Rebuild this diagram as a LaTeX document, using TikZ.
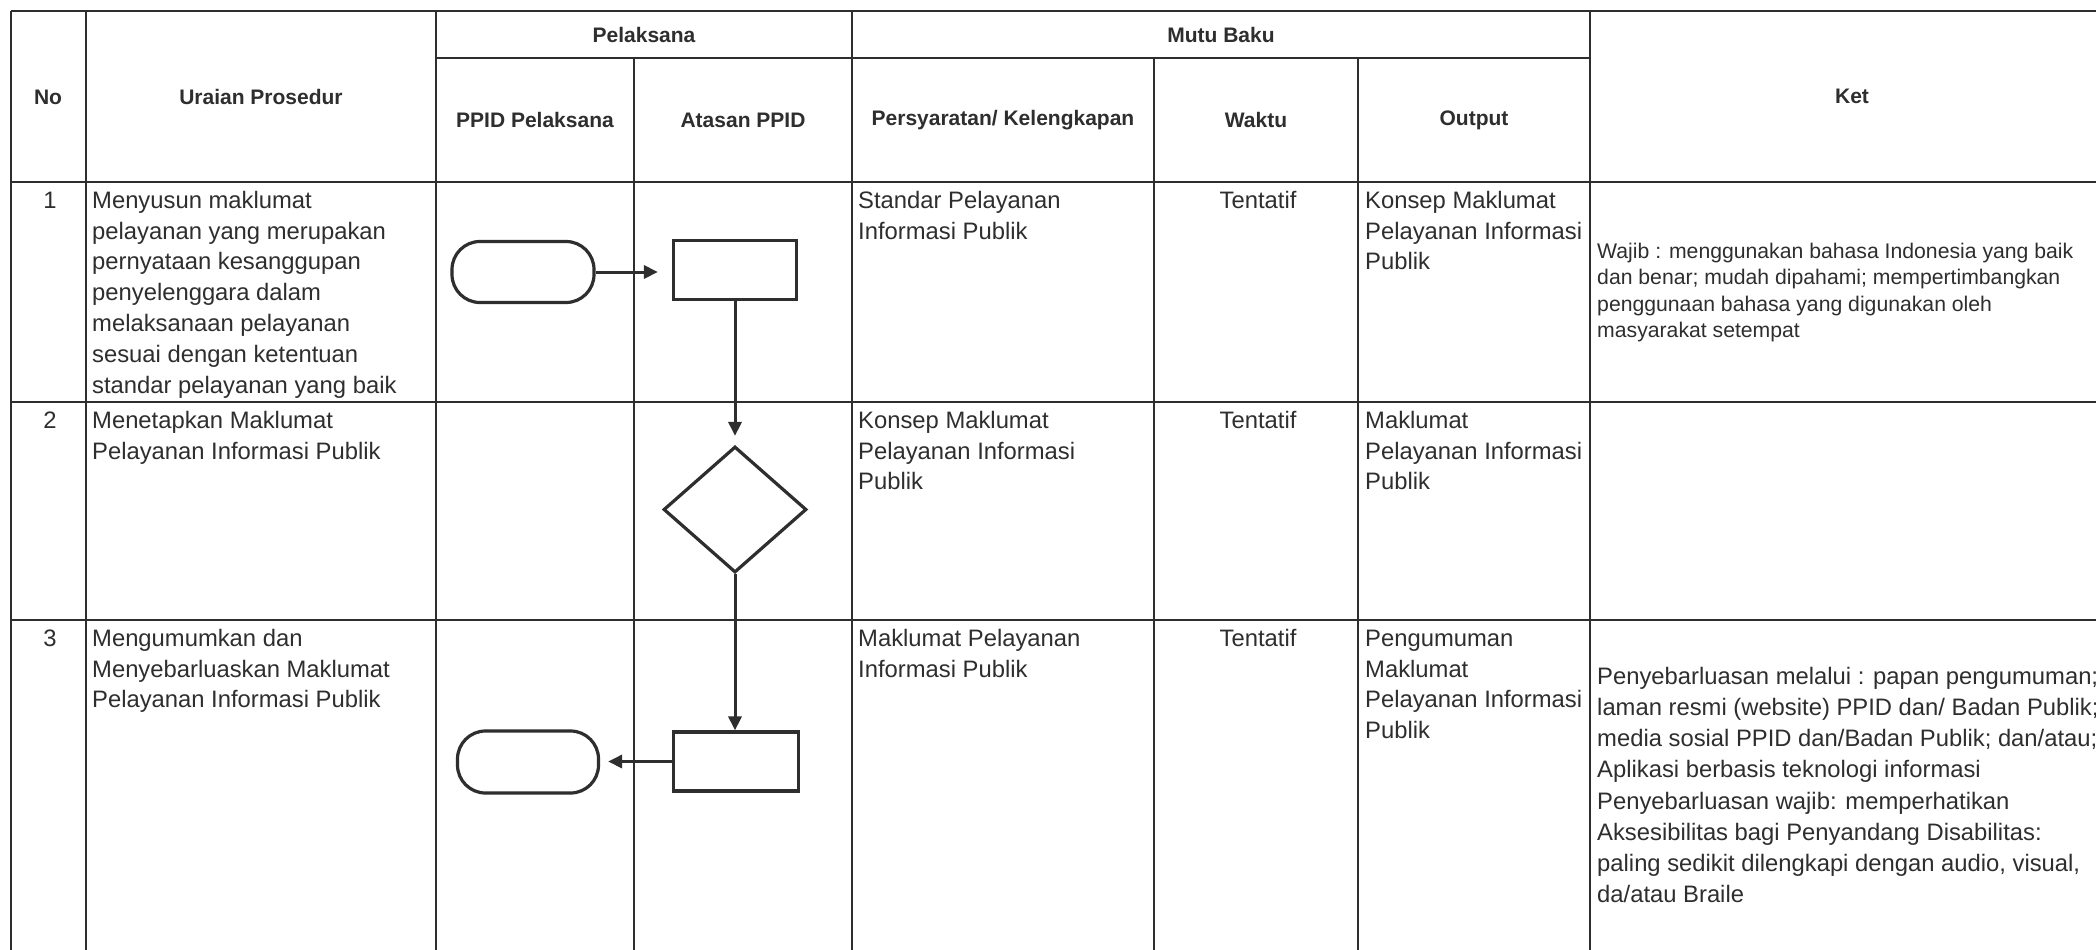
\documentclass[tikz,border=0pt]{standalone}
\usepackage{fontspec}
\setmainfont{Liberation Sans}
\usetikzlibrary{shapes.geometric,arrows.meta}
\definecolor{ink}{HTML}{2E2E2E}
\newcommand\lnstart{\rule{0pt}{20pt}}
\begin{document}
\begin{tikzpicture}[x=1pt,y=-1pt,
  grid/.style={draw=ink,line width=2.3pt},
  hdr/.style={font=\fontsize{21}{25}\selectfont\bfseries,text=ink,inner sep=0,anchor=center},
  body/.style={font=\fontsize{23.8}{30.8}\selectfont,text=ink,inner sep=0,align=left,anchor=north west},
  num/.style={font=\fontsize{23.8}{30.8}\selectfont,text=ink,inner sep=0,anchor=base},
  small/.style={font=\fontsize{21.2}{26.4}\selectfont,text=ink,inner sep=0,align=left,anchor=north west},
  note/.style={font=\fontsize{23.8}{31.2}\selectfont,text=ink,inner sep=0,align=left,anchor=north west},
  shp/.style={draw=ink,line width=3.2pt,inner sep=0,fill=white},
  term/.style={shp,rectangle,rounded corners=28pt},
  proc/.style={shp,rectangle},
  dec/.style={shp,diamond},
  flow/.style={draw=ink,line width=3pt,-{Triangle[length=14pt,width=13pt]}}
]
\useasboundingbox (0,0) rectangle (2096,950);
\clip (0,0) rectangle (2096,950);
\fill[white] (0,0) rectangle (2096,950);

% grid
\draw[grid] (11,11) -- (2096,11);
\draw[grid] (436,58) -- (1590,58);
\draw[grid] (11,182) -- (2096,182);
\draw[grid] (11,402) -- (2096,402);
\draw[grid] (11,620) -- (2096,620);
\draw[grid] (11,11) -- (11,950);
\draw[grid] (86,11) -- (86,950);
\draw[grid] (436,11) -- (436,950);
\draw[grid] (634,58) -- (634,950);
\draw[grid] (852,11) -- (852,950);
\draw[grid] (1154,58) -- (1154,950);
\draw[grid] (1358,58) -- (1358,950);
\draw[grid] (1590,11) -- (1590,950);

% header
\node[hdr] (hNo) at (48,97) {No};
\node[hdr] (hUr) at (261,97) {Uraian Prosedur};
\node[hdr] (hPel) at (644,35) {Pelaksana};
\node[hdr] (hMutu) at (1221,35) {Mutu Baku};
\node[hdr] (hPPID) at (535,120) {PPID Pelaksana};
\node[hdr] (hAtas) at (743,120) {Atasan PPID};
\node[hdr] (hSyarat) at (1003,120) {Persyaratan/ Kelengkapan};
\node[hdr] (hWaktu) at (1256,120) {Waktu};
\node[hdr] (hOut) at (1474,120) {Output};
\node[hdr] (hKet) at (1852,96) {Ket};

% row 1 (first baseline 208)
\node[num] (n1) at (50,208) {1};
\node[body] (u1) at (92,188) {\lnstart Menyusun maklumat\\pelayanan yang merupakan\\pernyataan kesanggupan\\penyelenggara dalam\\melaksanaan pelayanan\\sesuai dengan ketentuan\\standar pelayanan yang baik};
\node[body] (p1) at (858,188) {\lnstart Standar Pelayanan\\Informasi Publik};
\node[num] (w1) at (1258,208) {Tentatif};
\node[body] (o1) at (1365,188) {\lnstart Konsep Maklumat\\Pelayanan Informasi\\Publik};
\node[small] (k1) at (1597,238) {\lnstart Wajib : menggunakan bahasa Indonesia yang baik\\dan benar; mudah dipahami; mempertimbangkan\\penggunaan bahasa yang digunakan oleh\\masyarakat setempat};

% row 2 (first baseline 428)
\node[num] (n2) at (50,428) {2};
\node[body] (u2) at (92,408) {\lnstart Menetapkan Maklumat\\Pelayanan Informasi Publik};
\node[body] (p2) at (858,408) {\lnstart Konsep Maklumat\\Pelayanan Informasi\\Publik};
\node[num] (w2) at (1258,428) {Tentatif};
\node[body] (o2) at (1365,408) {\lnstart Maklumat\\Pelayanan Informasi\\Publik};

% row 3 (first baseline 646)
\node[num] (n3) at (50,646) {3};
\node[body] (u3) at (92,626) {\lnstart Mengumumkan dan\\Menyebarluaskan Maklumat\\Pelayanan Informasi Publik};
\node[body] (p3) at (858,626) {\lnstart Maklumat Pelayanan\\Informasi Publik};
\node[num] (w3) at (1258,646) {Tentatif};
\node[body] (o3) at (1365,626) {\lnstart Pengumuman\\Maklumat\\Pelayanan Informasi\\Publik};
\node[note] (k3) at (1597,664) {\lnstart Penyebarluasan melalui : papan pengumuman;\\laman resmi (website) PPID dan/ Badan Publik;\\media sosial PPID dan/Badan Publik; dan/atau;\\Aplikasi berbasis teknologi informasi\\Penyebarluasan wajib: memperhatikan\\Aksesibilitas bagi Penyandang Disabilitas:\\paling sedikit dilengkapi dengan audio, visual,\\da/atau Braile};

% flow shapes
\node[term,minimum width=142pt,minimum height=61pt] (t1) at (523,272) {};
\node[proc,minimum width=123pt,minimum height=59pt] (r1) at (735,270) {};
\node[dec,minimum width=143pt,minimum height=126pt] (d1) at (735,509.5) {};
\node[proc,minimum width=125pt,minimum height=59pt] (r3) at (736,761.5) {};
\node[term,minimum width=141pt,minimum height=62pt] (t3) at (528,762) {};

% connectors
\draw[flow,shorten >=14pt] (t1.east) -- (t1.east -| r1.west);
\draw[flow,shorten >=9pt] (r1.south) -- (r1.south |- d1.north);
\draw[flow] (d1.south) -- (d1.south |- r3.north);
\draw[flow,shorten >=8pt] (r3.west) -- (r3.west -| t3.east);
\end{tikzpicture}
\end{document}
